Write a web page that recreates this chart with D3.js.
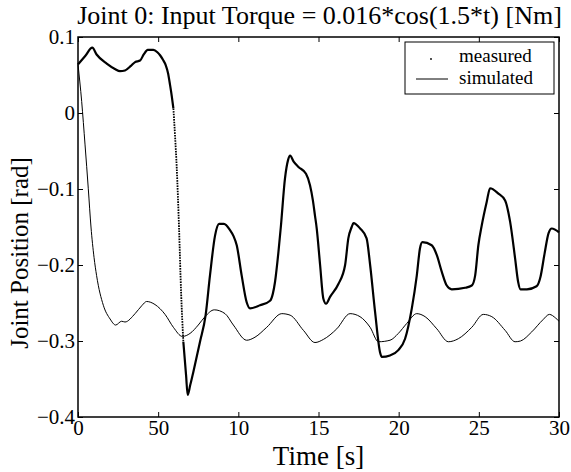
<!DOCTYPE html>
<html>
<head>
<meta charset="utf-8">
<script src="https://cdn.jsdelivr.net/npm/d3@7"></script>
<style>
  body { margin: 0; background: #fff; }
  text { font-family: "Liberation Serif", "Times New Roman", serif; fill: #000; }
</style>
</head>
<body>
<div id="chart"></div>
<script>
// Data
const measuredTime = [0, 0.45, 0.89, 1.16, 1.79, 2.3, 2.62, 2.93, 3.3, 3.56, 3.87, 4.1, 4.35, 4.7, 4.95, 5.12, 5.3, 5.47, 5.62, 5.74, 5.85, 5.95, 6.05, 6.16, 6.3, 6.43, 6.57, 6.74, 6.84, 7.0, 7.19, 7.61, 7.96, 8.23, 8.55, 8.8, 9.1, 9.48, 9.7, 9.9, 10.21, 10.52, 10.73, 11.35, 11.98, 12.15, 12.29, 12.5, 12.65, 12.91, 13.1, 13.23, 13.45, 13.75, 14.22, 14.47, 14.65, 14.78, 14.89, 15.1, 15.3, 15.47, 15.72, 16.24, 16.66, 16.86, 17.07, 17.18, 17.6, 18.0, 18.22, 18.53, 18.84, 18.95, 19.46, 19.98, 20.4, 20.82, 21.13, 21.33, 21.48, 22.06, 22.38, 22.69, 23.0, 23.31, 24.14, 24.56, 24.77, 24.97, 25.18, 25.49, 25.7, 26.22, 26.64, 26.95, 27.26, 27.45, 27.6, 28.0, 28.6, 28.85, 29.1, 29.35, 29.55, 30.0];
const measuredPos = [0.064, 0.075, 0.086, 0.077, 0.065, 0.058, 0.055, 0.056, 0.062, 0.067, 0.069, 0.077, 0.083, 0.083, 0.08, 0.076, 0.07, 0.063, 0.052, 0.037, 0.022, 0.006, -0.029, -0.073, -0.15, -0.236, -0.301, -0.345, -0.371, -0.358, -0.341, -0.301, -0.266, -0.214, -0.161, -0.146, -0.146, -0.154, -0.162, -0.174, -0.214, -0.249, -0.257, -0.253, -0.247, -0.238, -0.222, -0.183, -0.15, -0.086, -0.062, -0.056, -0.064, -0.071, -0.08, -0.095, -0.115, -0.135, -0.152, -0.2, -0.244, -0.251, -0.242, -0.225, -0.2, -0.165, -0.15, -0.145, -0.152, -0.165, -0.2, -0.262, -0.315, -0.321, -0.319, -0.312, -0.297, -0.257, -0.214, -0.178, -0.17, -0.174, -0.187, -0.209, -0.227, -0.232, -0.23, -0.227, -0.214, -0.174, -0.148, -0.117, -0.099, -0.106, -0.115, -0.143, -0.191, -0.222, -0.232, -0.232, -0.228, -0.215, -0.185, -0.158, -0.152, -0.157];

const simTime = [0, 0.23, 0.44, 0.64, 0.81, 1.0, 1.16, 1.58, 2.0, 2.35, 2.72, 2.93, 3.56, 4.0, 4.28, 4.8, 5.43, 5.95, 6.51, 6.99, 7.5, 7.92, 8.5, 9.17, 9.69, 10.52, 11.04, 11.77, 12.71, 13.23, 14.06, 14.78, 15.3, 16.14, 16.97, 17.59, 18.22, 18.74, 19.46, 19.98, 20.5, 21.13, 21.65, 22.38, 23.1, 23.72, 24.56, 25.28, 25.81, 26.64, 27.26, 27.6, 28.3, 29.0, 29.4, 29.8, 30.0];
const simPos = [0.064, 0.015, -0.042, -0.099, -0.15, -0.19, -0.214, -0.253, -0.271, -0.279, -0.274, -0.275, -0.264, -0.253, -0.248, -0.252, -0.265, -0.282, -0.294, -0.29, -0.279, -0.268, -0.259, -0.264, -0.279, -0.299, -0.295, -0.282, -0.264, -0.266, -0.286, -0.302, -0.298, -0.284, -0.264, -0.268, -0.282, -0.301, -0.299, -0.29, -0.277, -0.264, -0.268, -0.284, -0.301, -0.297, -0.282, -0.265, -0.268, -0.286, -0.301, -0.3, -0.288, -0.272, -0.265, -0.27, -0.274];

const xTicks = [0, 5, 10, 15, 20, 25, 30];
const xTickLabels = ["0", "50", "10", "15", "20", "25", "30"];
const yTicks = [-0.4, -0.3, -0.2, -0.1, 0, 0.1];
const yTickLabels = ["\u22120.4", "\u22120.3", "\u22120.2", "\u22120.1", "0", "0.1"];
const seriesNames = ["measured", "simulated"];

const titleText = "Joint 0:  Input Torque = 0.016*cos(1.5*t) [Nm]";
const xLabel = "Time [s]";
const yLabel = "Joint Position [rad]";

// Layout
const W = 571, H = 472;
const margin = { top: 37, right: 12, bottom: 55, left: 78 };
const width = W - margin.left - margin.right;
const height = H - margin.top - margin.bottom;

const svg = d3.select("#chart").append("svg")
    .attr("width", W)
    .attr("height", H);

const g = svg.append("g")
    .attr("transform", `translate(${margin.left},${margin.top})`);

const x = d3.scaleLinear().domain([0, 30]).range([0, width]);
const y = d3.scaleLinear().domain([-0.4, 0.1]).range([height, 0]);

// Axes with inward ticks
function styleAxis(sel) {
    sel.select(".domain").remove();
    sel.selectAll(".tick line").attr("stroke", "#000").attr("stroke-width", 1);
    sel.selectAll("text").style("font-family", "Liberation Serif").style("font-size", "21px").attr("fill", "#000");
}

g.append("g")
    .attr("transform", `translate(0,${height})`)
    .call(d3.axisBottom(x).tickValues(xTicks).tickSize(-5).tickSizeOuter(0).tickPadding(3)
        .tickFormat((d, i) => xTickLabels[i]))
    .call(styleAxis);

g.append("g")
    .call(d3.axisLeft(y).tickValues(yTicks).tickSize(-5).tickSizeOuter(0).tickPadding(3)
        .tickFormat((d, i) => yTickLabels[i]))
    .call(styleAxis);

g.append("g")
    .call(d3.axisTop(x).tickValues(xTicks).tickSize(-5).tickSizeOuter(0).tickFormat(""))
    .call(styleAxis);

g.append("g")
    .attr("transform", `translate(${width},0)`)
    .call(d3.axisRight(y).tickValues(yTicks).tickSize(-5).tickSizeOuter(0).tickFormat(""))
    .call(styleAxis);

// Box
g.append("rect")
    .attr("width", width)
    .attr("height", height)
    .attr("fill", "none")
    .attr("stroke", "#000")
    .attr("stroke-width", 1.5);

const line = d3.line().x(d => x(d[0])).y(d => y(d[1])).curve(d3.curveMonotoneX);

// Simulated (thin solid)
const simData = simTime.map((t, i) => [t, simPos[i]]);
g.append("path")
    .datum(simData)
    .attr("fill", "none")
    .attr("stroke", "#000")
    .attr("stroke-width", 1)
    .attr("d", line);

// Measured: sampled at 100 Hz, so where it is steep the dots separate
const measData = measuredTime.map((t, i) => [t, measuredPos[i]]);
const sampleDt = 0.01;
const runs = [];
for (let i = 1; i < measData.length; i++) {
    const a = measData[i - 1], b = measData[i];
    const dx = x(b[0]) - x(a[0]), dy = y(b[1]) - y(a[1]);
    const perSample = Math.hypot(dx, dy) / ((b[0] - a[0]) / sampleDt);
    const dotted = perSample > 2.5;
    const last = runs[runs.length - 1];
    if (last && last.dotted === dotted) last.pts.push(b);
    else runs.push({ dotted, gap: perSample, pts: [a, b] });
}
runs.forEach(r => {
    g.append("path")
        .datum(r.pts)
        .attr("fill", "none")
        .attr("stroke", "#000")
        .attr("stroke-width", r.dotted ? 1.8 : 2.2)
        .attr("stroke-linejoin", "round")
        .attr("stroke-dasharray", r.dotted ? `1.6,${(r.gap - 1.6).toFixed(2)}` : null)
        .attr("d", line);
});

// Title and labels
svg.append("text")
    .attr("x", margin.left + width / 2 + 1)
    .attr("y", 24)
    .attr("text-anchor", "middle")
    .style("font-size", "26px")
    .text(titleText);

svg.append("text")
    .attr("x", margin.left + width / 2)
    .attr("y", 465)
    .attr("text-anchor", "middle")
    .style("font-size", "27px")
    .text(xLabel);

svg.append("text")
    .attr("transform", `translate(28,${margin.top + height / 2 + 26}) rotate(-90)`)
    .attr("text-anchor", "middle")
    .style("font-size", "25px")
    .text(yLabel);

// Legend
const legend = svg.append("g").attr("transform", "translate(405,42)");
legend.append("rect")
    .attr("width", 149)
    .attr("height", 52)
    .attr("fill", "#fff")
    .attr("stroke", "#000")
    .attr("stroke-width", 1);
legend.append("circle")
    .attr("cx", 26)
    .attr("cy", 17)
    .attr("r", 0.9)
    .attr("fill", "#000");
legend.append("line")
    .attr("x1", 11).attr("x2", 43)
    .attr("y1", 37).attr("y2", 37)
    .attr("stroke", "#000")
    .attr("stroke-width", 1);
legend.selectAll(".lt")
    .data(seriesNames)
    .enter().append("text")
    .attr("x", 54)
    .attr("y", (d, i) => 20 + i * 22)
    .style("font-size", "19px")
    .text(d => d);
</script>
</body>
</html>
